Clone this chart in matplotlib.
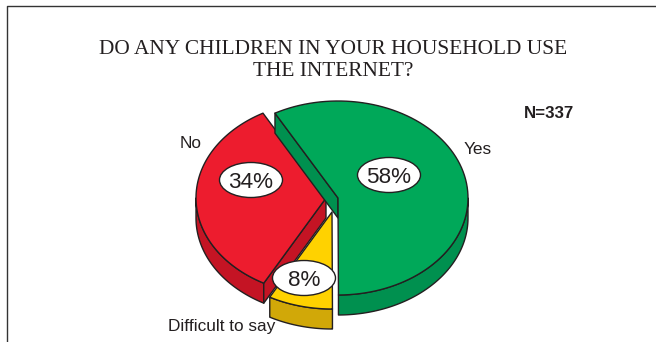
import numpy as np
import matplotlib
matplotlib.use("Agg")
import matplotlib.pyplot as plt
from matplotlib.patches import Ellipse, Polygon

title = "DO ANY CHILDREN IN YOUR HOUSEHOLD USE\nTHE INTERNET?"
note = "N=337"

# going counter-clockwise from the start angle
categories = ["No", "Difficult to say", "Yes"]
values = [34, 8, 58]
pct_labels = ["34%", "8%", "58%"]

top_colors = ["#ed1c2e", "#ffd200", "#00a859"]
side_colors = ["#c41424", "#d1a808", "#00904f"]
centers = [(326, 198), (332, 212), (338, 198)]
label_pos = [(191, 144), (221.5, 327), (478, 149)]
pct_pos = [(251, 180), (304, 278), (389, 175)]

start_angle = 119
rx, ry = 130, 97
depth = 20
line = "#231f20"

fig = plt.figure(figsize=(6.56, 3.42), dpi=100)
ax = fig.add_axes([0, 0, 1, 1])
ax.set_xlim(0, 656)
ax.set_ylim(342, 0)
ax.axis("off")


def arc(cx, cy, a0, a1):
    t = np.radians(np.linspace(a0, a1, 90))
    return np.column_stack([cx + rx * np.cos(t), cy - ry * np.sin(t)])


def draw_slice(i, a0, a1):
    cx, cy = centers[i]
    rim = arc(cx, cy, a0, a1)
    kw = dict(edgecolor=line, linewidth=1.0, joinstyle="round")

    # outer wall, only the part on the lower half of the ellipse
    w0, w1 = max(a0, 180), min(a1, 360)
    if w1 > w0:
        low = arc(cx, cy, w0, w1)
        wall = np.vstack([low, low[::-1] + [0, depth]])
        ax.add_patch(Polygon(wall, facecolor=side_colors[i], **kw))

    # cut faces that look towards the viewer
    if i == 0 or i == 2:
        p = rim[-1]
        face = [(cx, cy), p, p + [0, depth], (cx, cy + depth)]
        ax.add_patch(Polygon(face, facecolor=side_colors[i], **kw))

    top = np.vstack([[cx, cy], rim])
    ax.add_patch(Polygon(top, facecolor=top_colors[i], **kw))


angles = start_angle + np.cumsum([0] + values) * 3.6
for i in [1, 0, 2]:
    draw_slice(i, angles[i], angles[i + 1])

for i in range(3):
    x, y = pct_pos[i]
    ax.add_patch(Ellipse((x, y), 63, 35, facecolor="white", edgecolor=line, linewidth=1.0, zorder=5))
    ax.text(x, y, pct_labels[i], ha="center", va="center_baseline", fontsize=16.2,
            family="Liberation Sans", color=line, zorder=6)
    ax.text(label_pos[i][0], label_pos[i][1], categories[i], ha="center", va="center",
            fontsize=12.4, family="Liberation Sans", color=line)

ax.text(333, 60.5, title, ha="center", va="center", fontsize=15.4, family="Liberation Serif",
        color=line, linespacing=1.25)
ax.text(549, 113, note, ha="center", va="center", fontsize=12.2, fontweight="bold",
        family="Liberation Sans", color=line)

# frame, only top and left show in the crop
ax.plot([7, 7, 656], [342, 6, 6], color="#333333", lw=1.0)

fig.savefig("out.png", dpi=100)
